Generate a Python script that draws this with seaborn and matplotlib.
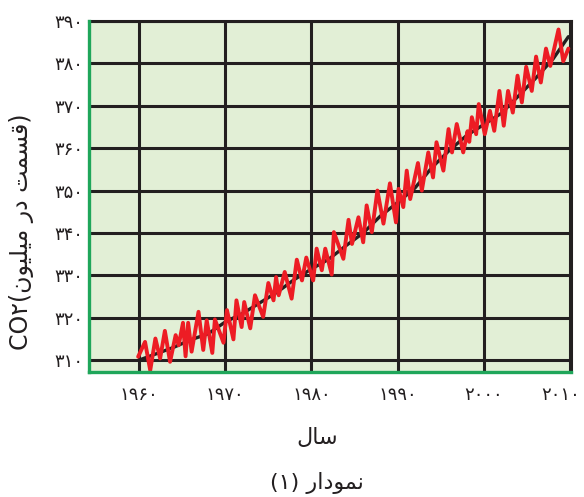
import numpy as np
import pandas as pd
import matplotlib
matplotlib.use("Agg")
import matplotlib.pyplot as plt
import matplotlib.transforms as mtransforms
import seaborn as sns

# Data

# black trend line
trend_years = [1960, 1962, 1964, 1966, 1968, 1970, 1972, 1974, 1976, 1978,
               1980, 1982, 1984, 1986, 1988, 1990, 1992, 1994, 1996, 1998,
               2000, 2002, 2004, 2006, 2008, 2009.8]
trend_ppm = [310.0, 311.5, 313.0, 314.8, 316.2, 319.0, 321.0, 323.5, 326.0, 329.0,
             331.5, 333.8, 337.0, 340.0, 344.0, 347.2, 350.6, 355.5, 359.5, 363.0,
             365.6, 368.2, 372.3, 376.5, 381.0, 386.3]

# red seasonal line (peaks and troughs)
red_years = [1959.9, 1960.7, 1961.3, 1961.9, 1962.45, 1963.0, 1963.6, 1964.25, 1964.6, 1965.1,
             1965.4, 1965.7, 1966.1, 1966.9, 1967.45, 1967.85, 1968.5, 1968.8, 1969.8, 1970.2,
             1970.95, 1971.3, 1971.9, 1972.2, 1972.9, 1973.45, 1974.4, 1975.0, 1975.6, 1975.9,
             1976.2, 1976.9, 1977.7, 1978.3, 1978.9, 1979.4, 1980.2, 1980.6, 1981.2, 1981.6,
             1982.35, 1982.6, 1983.7, 1984.3, 1984.7, 1985.45, 1986.0, 1986.4, 1987.0, 1987.65,
             1988.35, 1989.1, 1989.8, 1990.1, 1990.65, 1991.05, 1991.45, 1992.35, 1992.8, 1993.55,
             1994.1, 1994.5, 1995.3, 1995.9, 1996.3, 1996.85, 1997.6, 1998.1, 1998.3, 1998.6,
             1999.1, 1999.4, 2000.1, 2000.7, 2001.2, 2001.8, 2002.3, 2002.8, 2003.35, 2003.9,
             2004.4, 2004.9, 2005.55, 2006.05, 2006.6, 2007.2, 2007.7, 2008.65, 2009.2, 2009.8]
red_ppm = [310.8, 314.3, 307.6, 315.1, 310.4, 316.9, 309.6, 315.9, 313.5, 318.8,
           310.9, 318.8, 312.0, 321.4, 312.4, 319.4, 311.7, 319.6, 314.1, 321.8,
           314.9, 324.1, 317.8, 323.7, 317.5, 325.3, 320.2, 328.2, 324.1, 329.6,
           325.3, 330.8, 324.5, 333.7, 328.8, 334.2, 328.8, 336.3, 331.2, 336.3,
           330.2, 340.2, 333.9, 343.1, 337.4, 343.7, 337.8, 346.5, 340.2, 350.0,
           342.2, 351.7, 342.5, 350.4, 346.1, 354.7, 348.0, 356.5, 350.0, 359.0,
           353.1, 361.4, 354.7, 364.5, 359.0, 365.7, 359.0, 364.0, 361.5, 367.3,
           363.3, 370.4, 363.3, 368.8, 364.1, 373.5, 365.3, 373.5, 368.4, 377.1,
           370.8, 379.2, 373.5, 381.6, 375.5, 383.5, 379.4, 388.0, 380.5, 383.5]

x_ticks = [1960, 1970, 1980, 1990, 2000, 2010]
x_labels = ["۱۹۶۰", "۱۹۷۰", "۱۹۸۰", "۱۹۹۰", "۲۰۰۰", "۲۰۱۰"]
y_ticks = [310, 320, 330, 340, 350, 360, 370, 380, 390]
y_labels = ["۳۱۰", "۳۲۰", "۳۳۰", "۳۴۰", "۳۵۰", "۳۶۰", "۳۷۰", "۳۸۰", "۳۹۰"]

# Persian text, written in shaped (presentation) forms in visual order
x_title = "\uFEDD\uFE8E\uFEB3"  # سال
fig_title = "(۱) " + "\uFEAD\uFE8D\uFEA9\uFEEE\uFEE4\uFEE7"  # نمودار (۱)
y_title = ("CO۲(" + "\uFEE5\uFEEE\uFEF4\uFEE0\uFEF4\uFEE3" + " " + "\uFEAD\uFEA9"
           + " " + "\uFE96\uFEE4\uFEB4\uFED7" + ")")  # CO۲(قسمت در میلیون)

trend_df = pd.DataFrame({"year": trend_years, "ppm": trend_ppm})
red_df = pd.DataFrame({"year": red_years, "ppm": red_ppm})

sns.set_style("white")
plt.rcParams["font.family"] = ["DejaVu Sans"]

fig = plt.figure(figsize=(5.84, 4.97), dpi=100)
ax = fig.add_axes([89 / 584, 1 - 372 / 497, (571 - 89) / 584, (372 - 21) / 497])
ax.set_facecolor("#e2efd6")

sns.lineplot(data=trend_df, x="year", y="ppm", color="#231f20", linewidth=2.4,
             estimator=None, ax=ax, zorder=3)
sns.lineplot(data=red_df, x="year", y="ppm", color="#ed1c24", linewidth=2.8,
             estimator=None, ax=ax, zorder=4)

ax.set_xlim(1954.2, 2010.1)
ax.set_ylim(307.2, 390)
ax.set_xticks(x_ticks)
ax.set_xticklabels(x_labels, fontsize=13, color="#231f20")
ax.set_yticks(y_ticks)
ax.set_yticklabels(y_labels, fontsize=13, color="#231f20")
ax.tick_params(length=0)
ax.tick_params(axis="x", pad=10)
ax.tick_params(axis="y", pad=4)

# last year label sits a little left of its grid line, as in the original
last = ax.get_xticklabels()[-1]
last.set_transform(last.get_transform() +
                   mtransforms.ScaledTranslation(-10 / 100, 0, fig.dpi_scale_trans))

ax.set_axisbelow(True)
ax.grid(True, color="#231f20", linewidth=2.2)

for side in ["top", "right"]:
    ax.spines[side].set_color("#231f20")
    ax.spines[side].set_linewidth(2.2)
for side in ["left", "bottom"]:
    ax.spines[side].set_color("#1fa65a")
    ax.spines[side].set_linewidth(2.4)
    ax.spines[side].set_zorder(5)

ax.set_xlabel("")
ax.set_ylabel("")
fig.text(317 / 584, 1 - 438 / 497, x_title, fontsize=16, ha="center", va="center",
         color="#231f20")
fig.text(317 / 584, 1 - 483 / 497, fig_title, fontsize=16, ha="center", va="center",
         color="#231f20")
fig.text(22 / 584, 1 - 232 / 497, y_title, fontsize=17, rotation=90, ha="center",
         va="center", color="#231f20")

fig.savefig("out.png", dpi=100)
